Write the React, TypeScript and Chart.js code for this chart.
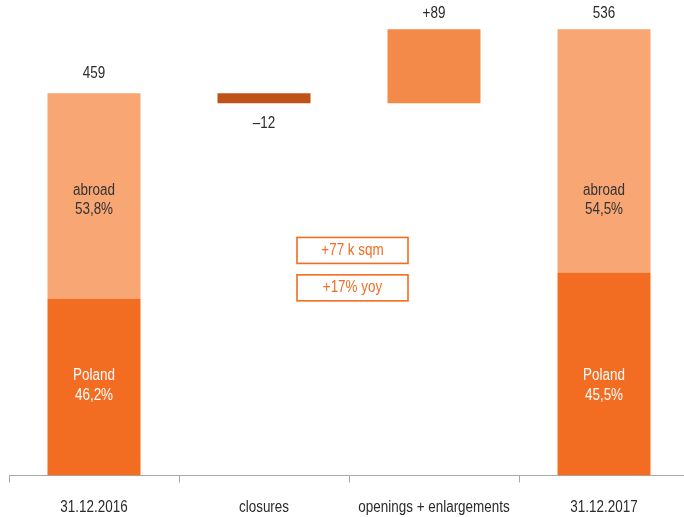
import React, { useEffect, useRef } from "react";
import { Chart, registerables } from "chart.js";

Chart.register(...registerables);

const categories = ["31.12.2016", "closures", "openings + enlargements", "31.12.2017"];
const totals: (number | null)[] = [459, null, null, 536];
const changes: (number | null)[] = [null, -12, 89, null];
const polandShare: (number | null)[] = [46.2, null, null, 45.5];
const abroadShare: (number | null)[] = [53.8, null, null, 54.5];
const totalLabels = ["459", "", "", "536"];
const changeLabels = ["", "\u201312", "+89", ""];
const polandLabels = ["46,2%", "", "", "45,5%"];
const abroadLabels = ["53,8%", "", "", "54,5%"];
const noteLines = ["+77 k sqm", "+17% yoy"];

const C_POLAND = "#F26C22";
const C_ABROAD = "#F8A673";
const C_CLOSE = "#C05219";
const C_OPEN = "#F38A49";
const FONT = "'Liberation Sans', Arial, sans-serif";
const SQUEEZE = 0.84;

// build floating ranges
const polandRanges: any[] = [];
const abroadRanges: any[] = [];
const changeRanges: any[] = [];
let running = 0;
categories.forEach((_, i) => {
  const t = totals[i];
  if (t != null) {
    const p = (t * (polandShare[i] as number)) / 100;
    polandRanges.push([0, p]);
    abroadRanges.push([p, t]);
    changeRanges.push(null);
    running = t;
  } else {
    const c = changes[i] as number;
    const next = running + c;
    changeRanges.push([Math.min(running, next), Math.max(running, next)]);
    polandRanges.push(null);
    abroadRanges.push(null);
    running = next;
  }
});

function txt(ctx: CanvasRenderingContext2D, s: string, x: number, y: number) {
  ctx.save();
  ctx.translate(x, y);
  ctx.scale(SQUEEZE, 1);
  ctx.fillText(s, 0, 0);
  ctx.restore();
}

const labelPlugin = {
  id: "labels",
  afterDatasetsDraw(chart: any) {
    const ctx = chart.ctx;
    const x = chart.scales.x;
    const y = chart.scales.y;
    const area = chart.chartArea;
    ctx.save();
    ctx.font = `16px ${FONT}`;
    ctx.textAlign = "center";
    ctx.textBaseline = "middle";
    const abroadY = area.top + (area.bottom - area.top) * 0.42;
    const polandY = area.top + (area.bottom - area.top) * 0.811;
    categories.forEach((lab, i) => {
      const cx = x.getPixelForValue(i);
      // category label
      ctx.fillStyle = "#2b2b2b";
      txt(ctx, lab, cx, area.bottom + 32);
      if (totals[i] != null) {
        const top = y.getPixelForValue(totals[i]);
        ctx.fillStyle = "#2b2b2b";
        txt(ctx, totalLabels[i], cx, Math.max(top - 20, 14));
        ctx.fillStyle = "#333333";
        txt(ctx, "abroad", cx, abroadY - 9.5);
        txt(ctx, abroadLabels[i], cx, abroadY + 9.5);
        ctx.fillStyle = "#ffffff";
        txt(ctx, "Poland", cx, polandY - 10);
        txt(ctx, polandLabels[i], cx, polandY + 10);
      } else {
        const r = changeRanges[i];
        ctx.fillStyle = "#2b2b2b";
        if ((changes[i] as number) < 0) {
          txt(ctx, changeLabels[i], cx, y.getPixelForValue(r[0]) + 20);
        } else {
          txt(ctx, changeLabels[i], cx, Math.max(y.getPixelForValue(r[1]) - 20, 14));
        }
      }
    });
    // note boxes
    const bx = (x.getPixelForValue(1) + x.getPixelForValue(2)) / 2 + 3.5;
    const mid = area.top + (area.bottom - area.top) * 0.566;
    const w = 111;
    const h = 26;
    ctx.strokeStyle = C_POLAND;
    ctx.lineWidth = 1.6;
    noteLines.forEach((t, k) => {
      const cy = mid + (k === 0 ? -18.7 : 18.7);
      ctx.strokeRect(bx - w / 2, cy - h / 2, w, h);
      ctx.fillStyle = C_POLAND;
      txt(ctx, t, bx, cy);
    });
    ctx.restore();
  },
};

export default function App() {
  const ref = useRef<HTMLCanvasElement>(null);
  useEffect(() => {
    if (!ref.current) return;
    const chart = new Chart(ref.current, {
      type: "bar",
      data: {
        labels: categories,
        datasets: [
          { data: polandRanges, backgroundColor: C_POLAND },
          { data: abroadRanges, backgroundColor: C_ABROAD },
          {
            data: changeRanges,
            backgroundColor: changes.map((c) => (c != null && c < 0 ? C_CLOSE : C_OPEN)),
          },
        ] as any,
      },
      options: {
        animation: false,
        responsive: false,
        maintainAspectRatio: false,
        layout: { padding: { left: 9, right: 0, top: 0, bottom: 0 } },
        datasets: { bar: { categoryPercentage: 1, barPercentage: 0.547, grouped: false } } as any,
        plugins: { legend: { display: false }, tooltip: { enabled: false } },
        scales: {
          x: {
            stacked: false,
            grid: {
              offset: true,
              drawOnChartArea: false,
              drawTicks: true,
              tickLength: 7,
              color: "#a8a8a8",
            },
            border: { color: "#a8a8a8", width: 1 },
            ticks: { display: false },
            afterFit: (s: any) => {
              s.height = 41.5;
            },
          },
          y: { display: false, min: 0, max: 571 },
        },
      },
      plugins: [labelPlugin],
    });
    return () => chart.destroy();
  }, []);
  return (
    <div style={{ position: "fixed", left: 0, top: 0, width: 684, height: 517, overflow: "hidden", background: "#fff" }}>
      <canvas ref={ref} width={689} height={517} style={{ display: "block", width: 689, height: 517 }} />
    </div>
  );
}
